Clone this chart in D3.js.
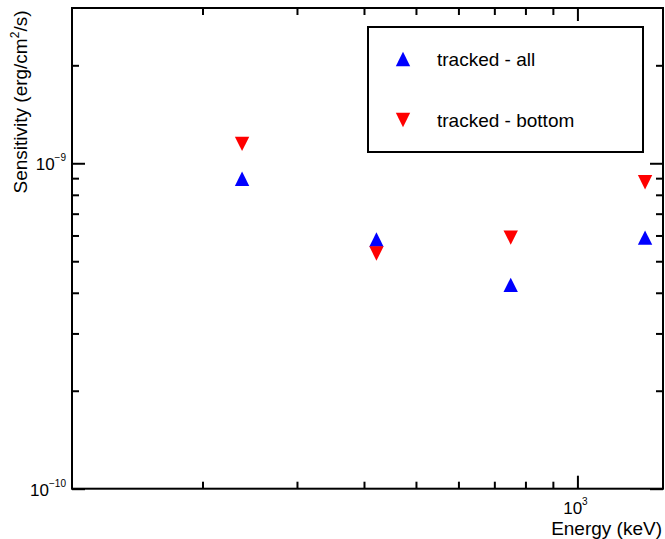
<!DOCTYPE html>
<html>
<head>
<meta charset="utf-8">
<script src="https://cdn.jsdelivr.net/npm/d3@7"></script>
<style>
  body { margin: 0; background: #fff; }
  svg { display: block; font-family: "Liberation Sans", Arial, sans-serif; }
  .domain { display: none; }
</style>
</head>
<body>
<div class="chart"></div>
<script>
// data
var energies = [237, 422, 751, 1337];
var trackedAll = [8.96e-10, 5.83e-10, 4.23e-10, 5.91e-10];
var trackedBottom = [1.147e-9, 5.28e-10, 5.91e-10, 8.74e-10];
var seriesNames = ["tracked - all", "tracked - bottom"];
var xMinor = [200, 300, 400, 500, 600, 700, 800, 900];
var xMajor = [1000];
var yMinor = [2e-10, 3e-10, 4e-10, 5e-10, 6e-10, 7e-10, 8e-10, 9e-10, 2e-9];
var yMajor = [1e-10, 1e-9];

var width = 665,
  height = 539;
// note: "top" is taken by window.top, so plain names get a prefix
var plotL = 72, plotR = 663, plotT = 8, plotB = 488.7;

var svg = d3.select(".chart")
  .append("svg")
  .attr("width", width)
  .attr("height", height);

var x = d3.scaleLog().domain([114.2, 1444]).range([plotL, plotR]);
var y = d3.scaleLog().domain([1e-10, 3e-9]).range([plotB, plotT]);

// inward ticks on all four sides
function ticks(axisFn, scale, vals, len, tr) {
  svg.append("g")
    .attr("transform", tr)
    .call(axisFn(scale).tickValues(vals).tickSize(len).tickFormat(""))
    .selectAll("line")
    .attr("stroke", "#000")
    .attr("stroke-width", 2);
}
ticks(d3.axisBottom, x, xMinor, -7, "translate(0," + plotB + ")");
ticks(d3.axisBottom, x, xMajor, -13, "translate(0," + plotB + ")");
ticks(d3.axisTop, x, xMinor, -7, "translate(0," + plotT + ")");
ticks(d3.axisTop, x, xMajor, -13, "translate(0," + plotT + ")");
ticks(d3.axisLeft, y, yMinor, -7, "translate(" + plotL + ",0)");
ticks(d3.axisLeft, y, yMajor, -13, "translate(" + plotL + ",0)");
ticks(d3.axisRight, y, yMinor, -7, "translate(" + plotR + ",0)");
ticks(d3.axisRight, y, yMajor, -13, "translate(" + plotR + ",0)");

svg.append("rect")
  .attr("x", plotL)
  .attr("y", plotT)
  .attr("width", plotR - plotL)
  .attr("height", plotB - plotT)
  .attr("fill", "none")
  .attr("stroke", "#000")
  .attr("stroke-width", 2);

// tick labels
yMajor.forEach(function(v) {
  var t = svg.append("text")
    .attr("x", plotL - 6)
    .attr("y", y(v) + 7)
    .attr("text-anchor", "end")
    .attr("font-size", 17);
  t.append("tspan").text("10");
  t.append("tspan").attr("dy", -9).attr("font-size", 10)
    .text("\u2212" + Math.round(-Math.log10(v)));
});
xMajor.forEach(function(v) {
  var t = svg.append("text")
    .attr("x", x(v) - 2)
    .attr("y", 514)
    .attr("text-anchor", "middle")
    .attr("font-size", 17);
  t.append("tspan").text("10");
  t.append("tspan").attr("dy", -9).attr("font-size", 10)
    .text(Math.round(Math.log10(v)));
});

// axis titles
svg.append("text")
  .attr("x", 662)
  .attr("y", 535)
  .attr("text-anchor", "end")
  .attr("font-size", 19)
  .text("Energy (keV)");

var yl = svg.append("text")
  .attr("transform", "translate(27,102) rotate(-90)")
  .attr("text-anchor", "middle")
  .attr("font-size", 19);
yl.append("tspan").text("Sensitivity (erg/cm");
yl.append("tspan").attr("dy", -8).attr("font-size", 12).text("2");
yl.append("tspan").attr("dy", 8).text("/s)");

// markers
var h = 7.2;
var up = "M0," + (-h) + "L" + h + "," + h + "L" + (-h) + "," + h + "Z";
var down = "M0," + h + "L" + h + "," + (-h) + "L" + (-h) + "," + (-h) + "Z";

svg.append("g").selectAll("path")
  .data(energies)
  .enter()
  .append("path")
  .attr("d", up)
  .attr("fill", "#0000ff")
  .attr("transform", function(d, i) {
    return "translate(" + x(d) + "," + y(trackedAll[i]) + ")";
  });

svg.append("g").selectAll("path")
  .data(energies)
  .enter()
  .append("path")
  .attr("d", down)
  .attr("fill", "#ff0000")
  .attr("transform", function(d, i) {
    return "translate(" + x(d) + "," + y(trackedBottom[i]) + ")";
  });

// legend
var lg = svg.append("g");
lg.append("rect")
  .attr("x", 368)
  .attr("y", 27)
  .attr("width", 275)
  .attr("height", 125)
  .attr("fill", "#fff")
  .attr("stroke", "#000")
  .attr("stroke-width", 2);

var items = lg.selectAll(".item")
  .data(seriesNames)
  .enter()
  .append("g")
  .attr("transform", function(d, i) {
    return "translate(403," + (59 + i * 61) + ")";
  });
items.append("path")
  .attr("d", function(d, i) { return i == 0 ? up : down; })
  .attr("fill", function(d, i) { return i == 0 ? "#0000ff" : "#ff0000"; });
items.append("text")
  .attr("x", 34)
  .attr("y", 6.5)
  .attr("font-size", 19)
  .text(function(d) { return d; });
</script>
</body>
</html>
